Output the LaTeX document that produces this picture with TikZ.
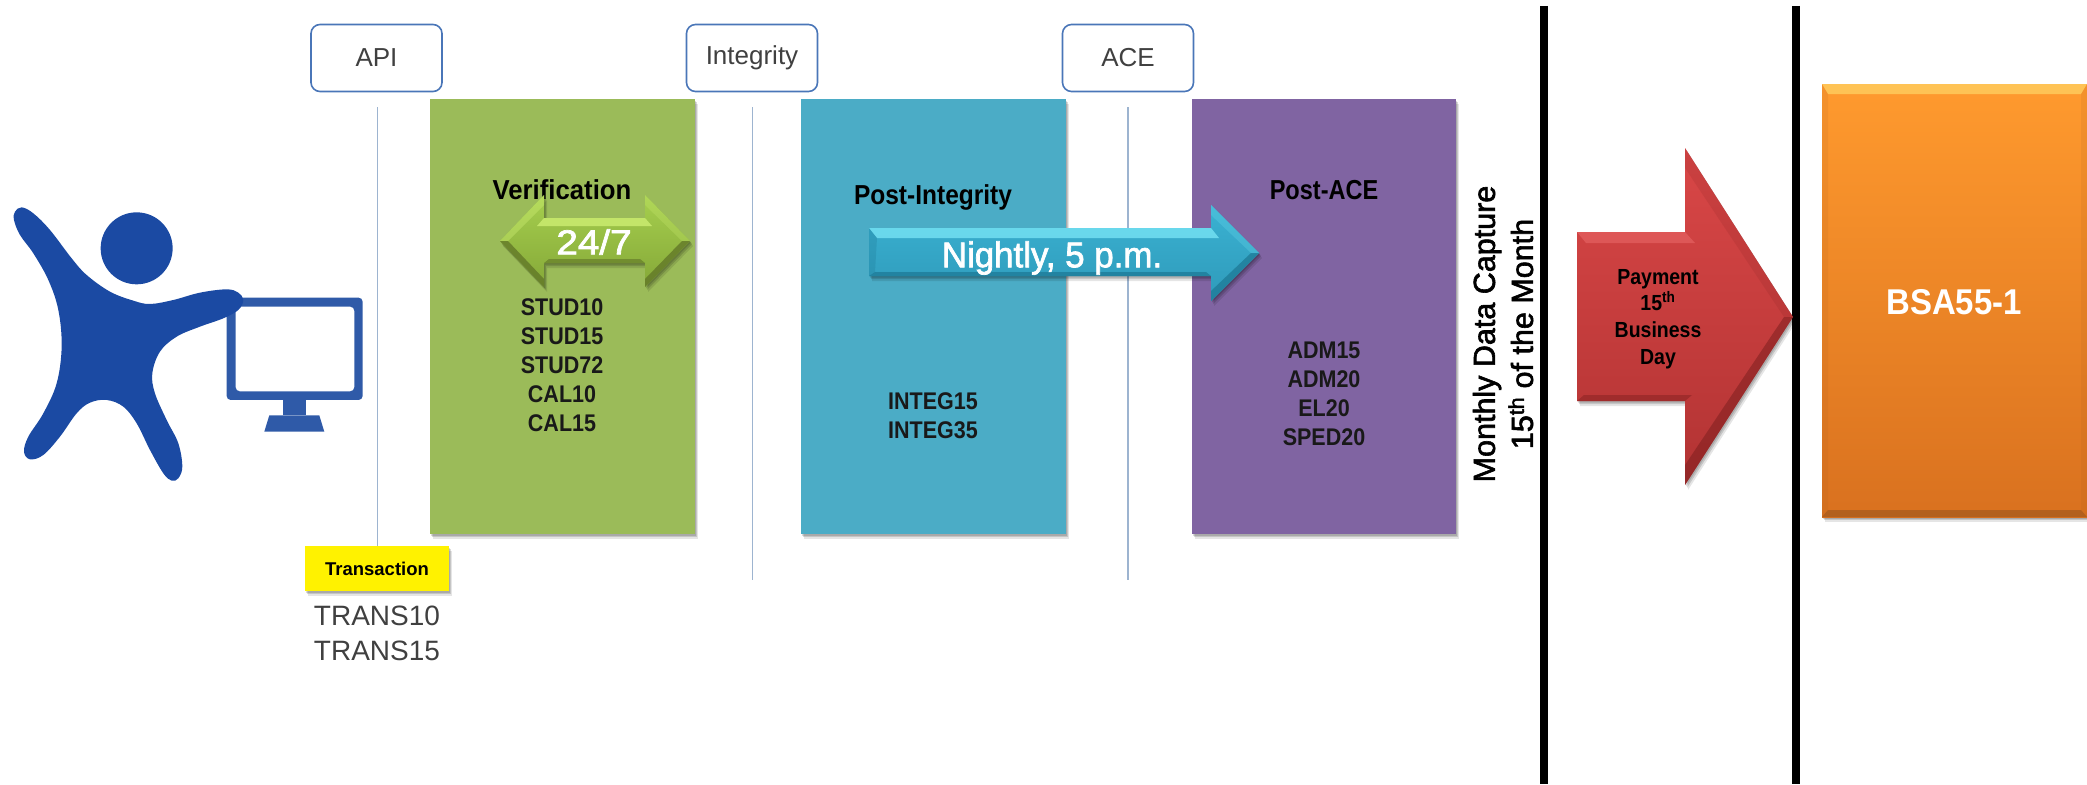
\documentclass[tikz,border=0pt]{standalone}
\usepackage{fontspec}
\setmainfont{Liberation Sans}
\newfontfamily\semib[FakeBold=2]{Liberation Sans}
\usetikzlibrary{shadows}
\definecolor{greenbox}{HTML}{9BBB59}
\definecolor{bluebox}{HTML}{4BACC6}
\definecolor{purplebox}{HTML}{8064A2}
\definecolor{personblue}{HTML}{1B4AA3}
\definecolor{screenblue}{HTML}{2F5AA8}
\definecolor{guide}{HTML}{9DB4D0}
\definecolor{tabline}{HTML}{4A76B8}
\definecolor{grtop}{HTML}{A6CF4E}
\definecolor{grbot}{HTML}{85A838}
\definecolor{grlight}{HTML}{CDEE72}
\definecolor{grdark}{HTML}{5F7426}
\definecolor{cytop}{HTML}{3AB2D2}
\definecolor{cybot}{HTML}{2F9ABA}
\definecolor{cylight}{HTML}{72E0F2}
\definecolor{cydark}{HTML}{1F7C99}
\definecolor{rdtop}{HTML}{D94747}
\definecolor{rdbot}{HTML}{B23333}
\definecolor{rdlight}{HTML}{E86666}
\definecolor{rddark}{HTML}{7E1F1F}
\definecolor{ortop}{HTML}{FF9A2E}
\definecolor{orbot}{HTML}{D9711F}
\definecolor{orlight}{HTML}{FFD566}
\definecolor{ordark}{HTML}{A65B1E}
\newcommand{\fs}[2]{\fontsize{#1}{#2}\selectfont}
\newcommand{\tl}[1]{\scalebox{1}[1.12]{#1}}
\newcommand{\dn}[1]{\raisebox{-2.5pt}{#1}}
\tikzset{
  softshadow/.style={
    drop shadow={shadow xshift=1pt,shadow yshift=-1.5pt,opacity=.14,fill=black},
    drop shadow={shadow xshift=2pt,shadow yshift=-3pt,opacity=.14,fill=black},
    drop shadow={shadow xshift=3pt,shadow yshift=-5pt,opacity=.10,fill=black}},
  panel/.style={rectangle,anchor=north west,inner sep=0pt,softshadow},
  tab/.style={draw=tabline,line width=1.6pt,rounded corners=9pt,fill=white,minimum width=131pt,minimum height=67pt,inner sep=0pt,text=black!75,font=\fs{26}{30}},
  guideline/.style={draw=guide,line width=1.5pt},
  heavyline/.style={draw=black,line width=8pt},
  caption/.style={font=\bfseries\fs{24.5}{29},text=black,inner sep=0pt},
  codes/.style={font=\bfseries\fs{21.5}{29},text=black!90,align=center,inner sep=0pt},
}
\begin{document}
\begin{tikzpicture}[x=1pt,y=-1pt]
\useasboundingbox (0,0) rectangle (2087,784);
% guide lines
\coordinate (g1t) at (377.5,107); \coordinate (g1b) at (377.5,546);
\coordinate (g2t) at (752.5,107); \coordinate (g2b) at (752.5,580);
\coordinate (g3t) at (1128,107); \coordinate (g3b) at (1128,580);
\draw[guideline] (g1t) -- (g1b);
\draw[guideline] (g2t) -- (g2b);
\draw[guideline] (g3t) -- (g3b);
% tabs
\node[tab] (api) at (376.5,58) {\dn{API}};
\node[tab] (integrity) at (752,58) {\dn{Integrity}};
\node[tab] (ace) at (1128,58) {\dn{ACE}};
% panels
\node[panel,fill=greenbox,minimum width=265pt,minimum height=435pt] (verif) at (430,99) {};
\node[panel,fill=bluebox,minimum width=265pt,minimum height=435pt] (postint) at (801,99) {};
\node[panel,fill=purplebox,minimum width=264pt,minimum height=435pt] (postace) at (1192,99) {};
\node[caption] (vt) at (562,190) {\scalebox{1.05}[1.12]{Verification}};
\node[caption] (pit) at (933,197) {\tl{Post-Integrity}};
\node[caption] (pat) at (1324,190) {\scalebox{.96}[1.12]{Post-ACE}};
\node[codes] (vc) at (562,365) {\tl{STUD10}\\\tl{STUD15}\\\tl{STUD72}\\\tl{CAL10}\\\tl{CAL15}};
\node[codes] (ic) at (933,416) {\tl{INTEG15}\\\tl{INTEG35}};
\node[codes] (ac) at (1324,394) {\tl{ADM15}\\\tl{ADM20}\\\tl{EL20}\\\tl{SPED20}};
% 24/7 arrow
\path[softshadow,top color=grtop,bottom color=grbot,draw=none]
  (500,241) -- (544,195) -- (544,218) -- (645,218) -- (645,195) -- (690,241) -- (645,287) -- (645,263) -- (544,263) -- (544,287) -- cycle;
\fill[grlight,opacity=.8] (544,218) -- (645,218) -- (652,226) -- (537,226) -- cycle;
\fill[grlight,opacity=.4] (500,241) -- (544,195) -- (544,205) -- (508,241) -- cycle;
\fill[grlight,opacity=.25] (690,241) -- (645,195) -- (645,205) -- (682,241) -- cycle;
\fill[grdark,opacity=.75] (500,241) -- (544,287) -- (544,279) -- (508,241) -- cycle;
\fill[grdark,opacity=.75] (690,241) -- (645,287) -- (645,279) -- (682,241) -- cycle;
\fill[grdark,opacity=.6] (544,263) -- (645,263) -- (640,259) -- (549,259) -- cycle;
\node[inner sep=0pt,text=white,font=\semib\fs{33}{36}] (t247) at (594,242) {\scalebox{1.17}[1.05]{24/7}};
% Nightly arrow
\path[softshadow,top color=cytop,bottom color=cybot,draw=none]
  (869,228) -- (1211,228) -- (1211,205) -- (1259,253) -- (1211,301) -- (1211,276) -- (869,276) -- cycle;
\fill[cylight,opacity=.85] (869,228) -- (1211,228) -- (1219,238) -- (877,238) -- cycle;
\fill[cydark,opacity=.8] (869,276) -- (1211,276) -- (1206,272) -- (875,272) -- cycle;
\fill[cydark,opacity=.8] (1259,253) -- (1211,301) -- (1211,291) -- (1251,253) -- cycle;
\fill[cylight,opacity=.25] (1259,253) -- (1211,205) -- (1211,215) -- (1251,253) -- cycle;
\fill[cydark,opacity=.3] (869,228) -- (877,238) -- (875,272) -- (869,276) -- cycle;
\node[inner sep=0pt,text=white,font=\semib\fs{32}{36}] (tnight) at (1052,258) {\scalebox{1.09}[1.12]{Nightly, 5 p.m.}};
% monthly text
\node[rotate=90,inner sep=0pt,font=\semib\fs{30.5}{38},align=center,text=black] (monthly) at (1503,334) {Monthly Data Capture\\15\textsuperscript{th} of the Month};
% heavy lines
\coordinate (h1t) at (1544,6); \coordinate (h1b) at (1544,784);
\coordinate (h2t) at (1796,6); \coordinate (h2b) at (1796,784);
\draw[heavyline] (h1t) -- (h1b);
\draw[heavyline] (h2t) -- (h2b);
% red arrow
\path[softshadow,top color=rdtop,bottom color=rdbot,draw=none]
  (1577,232) -- (1685,232) -- (1685,148) -- (1793,317) -- (1685,485) -- (1685,401) -- (1577,401) -- cycle;
\fill[rdlight,opacity=.6] (1577,232) -- (1685,232) -- (1695,243) -- (1586,243) -- cycle;
\fill[rddark,opacity=.45] (1577,401) -- (1685,401) -- (1692,395) -- (1584,395) -- cycle;
\fill[rddark,opacity=.55] (1793,317) -- (1685,485) -- (1685,465) -- (1784,317) -- cycle;
\fill[rddark,opacity=.15] (1793,317) -- (1685,148) -- (1685,168) -- (1784,317) -- cycle;
\node[inner sep=0pt,align=center,text=black,font=\bfseries\fs{19.5}{26.8}] (tpay) at (1658,319) {\tl{Payment}\\\tl{15\textsuperscript{th}}\\\tl{Business}\\\tl{Day}};
% orange box
\node[panel,top color=ortop,bottom color=orbot,minimum width=265pt,minimum height=433pt] (bsa) at (1822,84) {};
\fill[orlight,opacity=.7] (1822,84) -- (2087,84) -- (2081,94) -- (1828,94) -- cycle;
\fill[ordark,opacity=.75] (1822,517) -- (2087,517) -- (2081,510) -- (1828,510) -- cycle;
\fill[ordark,opacity=.12] (1822,84) -- (1828,94) -- (1828,510) -- (1822,517) -- cycle;
\fill[ordark,opacity=.12] (2087,84) -- (2081,94) -- (2081,510) -- (2087,517) -- cycle;
\node[inner sep=0pt,text=white,font=\bfseries\fs{32}{36}] (tbsa) at (1954,302) {\scalebox{1.03}[1.12]{BSA55-1}};
% transaction
\node[rectangle,fill=yellow,softshadow,minimum width=144pt,minimum height=45pt,inner sep=0pt,font=\bfseries\fs{18.5}{22}] (trans) at (377,568.5) {Transaction};
\node[inner sep=0pt,align=center,text=black!75,font=\fs{28}{35}] (tcodes) at (377,633.5) {TRANS10\\TRANS15};
% person and monitor (traced)
\begin{scope}[shift={(0,180)},x=.3333pt,y=-.3333pt]
  \fill[screenblue,even odd rule,rounded corners=4pt] (680,353) rectangle (1088,660) (707,380) rectangle (1063,634);
  \fill[screenblue] (850,660) rectangle (917,706);
  \fill[screenblue] (808,706) -- (958,706) -- (973,755) -- (793,755) -- cycle;
  \fill[personblue] (410,205) circle[radius=108];
  \fill[personblue] plot[smooth cycle,tension=.6] coordinates {(45,95) (65,82) (100,100) (150,150) (215,235) (260,285) (330,335) (400,362) (450,372) (520,360) (600,338) (680,328) (715,338) (730,360) (715,390) (670,415) (600,440) (530,470) (480,515) (457,580) (465,640) (500,720) (535,790) (547,860) (535,895) (515,902) (490,880) (450,810) (410,730) (370,680) (320,660) (270,668) (230,700) (180,770) (130,825) (90,838) (72,815) (85,770) (130,700) (170,610) (185,500) (175,390) (145,300) (100,220) (60,165) (42,120)};
\end{scope}
\end{tikzpicture}
\end{document}
